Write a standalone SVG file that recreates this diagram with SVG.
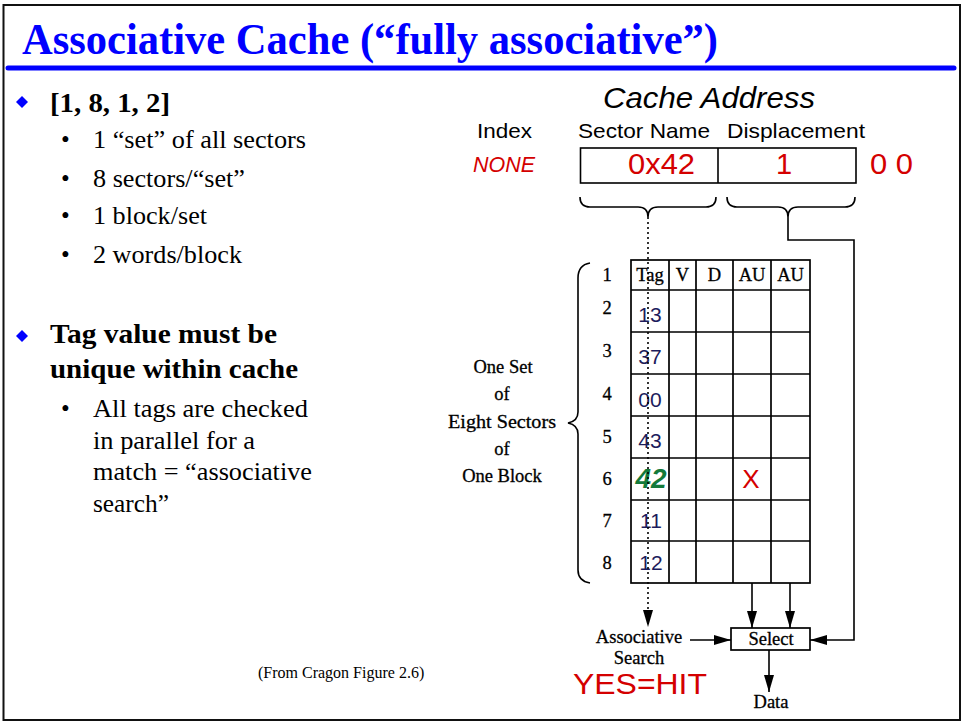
<svg xmlns="http://www.w3.org/2000/svg" width="964" height="723" viewBox="0 0 964 723">
  <defs>
    <marker id="arr" viewBox="0 0 17 10" refX="17" refY="5" markerWidth="17" markerHeight="10" orient="auto" markerUnits="userSpaceOnUse">
      <path d="M0,0 L17,5 L0,10 Z" fill="#000"/>
    </marker>
    <style>
      .title { font-family: "Liberation Serif", "Times New Roman", serif; font-weight: bold; font-size: 44px; fill: #0000ff; }
      .head { font-family: "Liberation Serif", "Times New Roman", serif; font-weight: bold; font-size: 28px; fill: #000; }
      .body { font-family: "Liberation Serif", "Times New Roman", serif; font-size: 25px; fill: #000; }
      .note { font-family: "Liberation Serif", "Times New Roman", serif; font-size: 16px; fill: #000; }
      .fig { font-family: "Liberation Serif", "Times New Roman", serif; font-size: 18.5px; fill: #000; stroke: #000; stroke-width: 0.3; }
      .sans { font-family: "Liberation Sans", Arial, sans-serif; fill: #000; }
      .red { fill: #d40000; }
      .tagv { font-family: "Liberation Sans", Arial, sans-serif; font-size: 21px; fill: #1c1c5c; text-anchor: middle; }
      .mid { text-anchor: middle; }
      .line { fill: none; stroke: #000; stroke-width: 1.6; }
      .grid { fill: none; stroke: #000; stroke-width: 1.7; }
      .dot { fill: none; stroke: #000; stroke-width: 1.6; stroke-dasharray: 2 3; }
      .diamond { fill: #0000ff; }
    </style>
  </defs>

  <rect x="0" y="0" width="964" height="723" fill="#fff"/>
  <!-- slide frame -->
  <rect x="3.5" y="5" width="956.5" height="715" fill="none" stroke="#111" stroke-width="2"/>

  <!-- heading -->
  <g id="title">
    <text class="title" x="22" y="54" textLength="696" lengthAdjust="spacingAndGlyphs">Associative Cache (“fully associative”)</text>
    <line x1="8" y1="68" x2="954" y2="68" stroke="#0000ff" stroke-width="5" stroke-linecap="round"/>
  </g>

  <!-- bullet text, left column -->
  <g id="bullets">
    <path class="diamond" d="M22,96 L28,102 L22,108 L16,102 Z"/>
    <text class="head" x="50" y="112" textLength="120" lengthAdjust="spacingAndGlyphs">[1, 8, 1, 2]</text>
    <text class="body" x="61" y="148">•</text>
    <text class="body" x="93" y="148" textLength="213" lengthAdjust="spacingAndGlyphs">1 “set” of all sectors</text>
    <text class="body" x="61" y="187">•</text>
    <text class="body" x="93" y="187" textLength="152" lengthAdjust="spacingAndGlyphs">8 sectors/“set”</text>
    <text class="body" x="61" y="224">•</text>
    <text class="body" x="93" y="224" textLength="114" lengthAdjust="spacingAndGlyphs">1 block/set</text>
    <text class="body" x="61" y="263">•</text>
    <text class="body" x="93" y="263" textLength="149" lengthAdjust="spacingAndGlyphs">2 words/block</text>

    <path class="diamond" d="M22,330 L28,336 L22,342 L16,336 Z"/>
    <text class="head" x="50" y="343" textLength="227" lengthAdjust="spacingAndGlyphs">Tag value must be</text>
    <text class="head" x="50" y="378" textLength="248" lengthAdjust="spacingAndGlyphs">unique within cache</text>
    <text class="body" x="61" y="417">•</text>
    <text class="body" x="93" y="417" textLength="215" lengthAdjust="spacingAndGlyphs">All tags are checked</text>
    <text class="body" x="93" y="449" textLength="162" lengthAdjust="spacingAndGlyphs">in parallel for a</text>
    <text class="body" x="93" y="480" textLength="219" lengthAdjust="spacingAndGlyphs">match = “associative</text>
    <text class="body" x="93" y="512" textLength="76" lengthAdjust="spacingAndGlyphs">search”</text>

    <text class="note" x="258" y="678">(From Cragon Figure 2.6)</text>
  </g>

  <!-- address fields -->
  <g id="address">
    <text class="sans" x="603" y="108" font-size="30" font-style="italic" textLength="212" lengthAdjust="spacingAndGlyphs">Cache Address</text>
    <text class="sans" x="477" y="138" font-size="21" textLength="55" lengthAdjust="spacingAndGlyphs">Index</text>
    <text class="sans" x="578" y="138" font-size="21" textLength="132" lengthAdjust="spacingAndGlyphs">Sector Name</text>
    <text class="sans" x="727" y="138" font-size="21" textLength="138" lengthAdjust="spacingAndGlyphs">Displacement</text>
    <text class="sans red" x="473" y="172" font-size="21.5" font-style="italic" textLength="62" lengthAdjust="spacingAndGlyphs">NONE</text>
    <rect x="580.5" y="148" width="275.5" height="35" class="line"/>
    <line x1="718" y1="148" x2="718" y2="183" class="line"/>
    <text class="sans red" x="628" y="174" font-size="29" textLength="67" lengthAdjust="spacingAndGlyphs">0x42</text>
    <text class="sans red mid" x="784" y="174" font-size="29">1</text>
    <text class="sans red" x="870" y="174" font-size="29" textLength="43" lengthAdjust="spacingAndGlyphs">0 0</text>
    <!-- field braces -->
    <path class="line" d="M580,197 Q580,207 590,207 L638,207 Q648,207 648,217 Q648,207 658,207 L706,207 Q716,207 716,197"/>
    <path class="line" d="M727,197 Q727,207 737,207 L778,207 Q788,207 788,217 Q788,207 798,207 L845,207 Q855,207 855,197"/>
  </g>

  <!-- sector table -->
  <g id="sector-table">
    <rect x="631" y="260" width="179" height="323" class="grid"/>
    <path class="grid" d="M669,260 V583 M696,260 V583 M733,260 V583 M771,260 V583
                          M631,290 H810 M631,332 H810 M631,374 H810 M631,416 H810
                          M631,458 H810 M631,500 H810 M631,541 H810"/>
    <text class="fig mid" x="650" y="281">Tag</text>
    <text class="fig mid" x="682.5" y="281">V</text>
    <text class="fig mid" x="714.5" y="281">D</text>
    <text class="fig mid" x="752" y="281" font-size="17.5">AU</text>
    <text class="fig mid" x="790.5" y="281" font-size="17.5">AU</text>

    <text class="tagv" x="650" y="322">13</text>
    <text class="tagv" x="650" y="364">37</text>
    <text class="tagv" x="650" y="407">00</text>
    <text class="tagv" x="650" y="448">43</text>
    <text class="sans mid" x="651" y="488" font-size="28" font-weight="bold" font-style="italic" style="fill:#137a3a">42</text>
    <text class="sans red mid" x="751" y="488" font-size="26">X</text>
    <text class="tagv" x="651" y="528">11</text>
    <text class="tagv" x="651" y="570">12</text>

    <text class="fig mid" x="607" y="281">1</text>
    <text class="fig mid" x="607" y="314">2</text>
    <text class="fig mid" x="607" y="357">3</text>
    <text class="fig mid" x="607" y="400">4</text>
    <text class="fig mid" x="607" y="443">5</text>
    <text class="fig mid" x="607" y="485">6</text>
    <text class="fig mid" x="607" y="527">7</text>
    <text class="fig mid" x="607" y="569">8</text>

    <!-- brace spanning the eight sectors -->
    <path class="line" d="M590,263 Q578,265 578,278 L578,412 Q578,421 568,423 Q578,425 578,434 L578,570 Q578,581 590,583"/>
    <text class="fig mid" x="503" y="373">One Set</text>
    <text class="fig mid" x="502" y="400">of</text>
    <text class="fig mid" x="502" y="428" textLength="108" lengthAdjust="spacingAndGlyphs">Eight Sectors</text>
    <text class="fig mid" x="502" y="455">of</text>
    <text class="fig mid" x="502" y="482">One Block</text>
  </g>

  <!-- select logic -->
  <g id="select">
    <rect x="731" y="628" width="79" height="22" class="grid"/>
    <text class="fig mid" x="771" y="645">Select</text>
  </g>

  <g id="labels">
    <text class="fig mid" x="639" y="643">Associative</text>
    <text class="fig mid" x="639" y="664">Search</text>
    <text class="sans red" x="573" y="694" font-size="29" textLength="134" lengthAdjust="spacingAndGlyphs">YES=HIT</text>
    <text class="fig mid" x="771" y="708">Data</text>
  </g>

  <!-- connectors -->
  <g id="connectors">
    <line class="dot" x1="648" y1="217" x2="648" y2="627" marker-end="url(#arr)"/>
    <polyline class="line" points="788,217 788,240 854,240 854,640 810,640" marker-end="url(#arr)"/>
    <line class="line" x1="690" y1="640" x2="731" y2="640" marker-end="url(#arr)"/>
    <line class="line" x1="752" y1="583" x2="752" y2="628" marker-end="url(#arr)"/>
    <line class="line" x1="790" y1="583" x2="790" y2="628" marker-end="url(#arr)"/>
    <line class="line" x1="769" y1="650" x2="769" y2="692" marker-end="url(#arr)"/>
  </g>
</svg>
